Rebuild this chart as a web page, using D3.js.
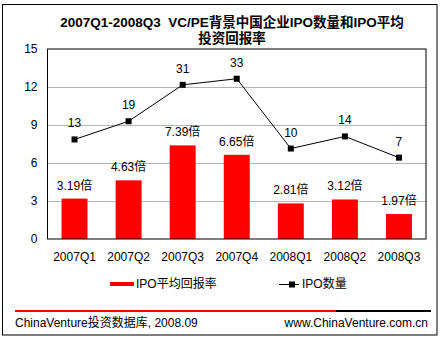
<!DOCTYPE html>
<html><head><meta charset="utf-8">
<script src="https://cdn.jsdelivr.net/npm/d3@7"></script>
<style>
body{margin:0;background:#fff;}
text{font-family:"Liberation Sans","Noto Sans CJK SC",sans-serif;}
</style></head>
<body><svg id="c" width="442" height="340"></svg>
<script>
const categories = ["2007Q1","2007Q2","2007Q3","2007Q4","2008Q1","2008Q2","2008Q3"];
const returnMultiples = [3.19,4.63,7.39,6.65,2.81,3.12,1.97];
const ipoCounts = [13,19,31,33,10,14,7];
const yTicks = [0,3,6,9,12,15];
const titleLines = ["2007Q1-2008Q3  VC/PE背景中国企业IPO数量和IPO平均","投资回报率"];
const legendLabels = ["IPO平均回报率","IPO数量"];
const footerLeft = "ChinaVenture投资数据库, 2008.09";
const footerRight = "www.ChinaVenture.com.cn";

const svg = d3.select("#c");
const L=47.5, R=426, T=49, B=239;
const font = '"Liberation Sans","Noto Sans CJK SC",sans-serif';

svg.append("rect").attr("x",2.5).attr("y",4.5).attr("width",434.5).attr("height",330.5)
  .attr("fill","#fff").attr("stroke","#000").attr("stroke-width",1);

const x = d3.scaleBand().domain(categories).range([L,R]).paddingInner(0.52).paddingOuter(0.26);
const y = d3.scaleLinear().domain([0,15]).range([B,T]);
const y2 = d3.scaleLinear().domain([-19.8,42.8]).range([B,T]);

// title
titleLines.forEach((t,i)=>{
  svg.append("text").attr("x",232).attr("y",27+i*16).attr("text-anchor","middle")
    .style("white-space","pre")
    .attr("font-weight","bold").attr("font-size",13.5).attr("fill","#000").text(t);
});

// grid
svg.append("g").selectAll("line").data(yTicks.filter(d=>d>0&&d<15)).join("line")
  .attr("x1",L).attr("x2",R).attr("y1",d=>Math.round(y(d))+0.5).attr("y2",d=>Math.round(y(d))+0.5)
  .attr("stroke","#b4b4b4").attr("stroke-width",1);

// y axis
const ya = svg.append("g").attr("transform",`translate(${L},0)`)
  .call(d3.axisLeft(y).tickValues(yTicks).tickSize(0).tickPadding(10));
ya.select(".domain").remove();
ya.selectAll("text").attr("font-size",12).attr("font-family",font).attr("fill","#000");

// bars
svg.append("g").selectAll("rect").data(returnMultiples).join("rect")
  .attr("x",(d,i)=>x(categories[i])).attr("width",x.bandwidth())
  .attr("y",d=>y(d)).attr("height",d=>B-y(d)).attr("fill","#ff0000");

svg.append("g").selectAll("text").data(returnMultiples).join("text")
  .attr("x",(d,i)=>x(categories[i])+x.bandwidth()/2).attr("y",d=>y(d)-9)
  .attr("text-anchor","middle").attr("font-size",12).attr("fill","#000")
  .text(d=>d.toFixed(2)+"倍");

// plot frame
svg.append("rect").attr("x",L).attr("y",T).attr("width",R-L).attr("height",B-T)
  .attr("fill","none").attr("stroke","#000").attr("stroke-width",1);

// line
const cx = i=>x(categories[i])+x.bandwidth()/2;
svg.append("path").datum(ipoCounts)
  .attr("d",d3.line().x((d,i)=>cx(i)).y(d=>y2(d)))
  .attr("fill","none").attr("stroke","#000").attr("stroke-width",1);
svg.append("g").selectAll("rect").data(ipoCounts).join("rect")
  .attr("x",(d,i)=>cx(i)-3).attr("y",d=>y2(d)-3).attr("width",6).attr("height",6).attr("fill","#000");
svg.append("g").selectAll("text").data(ipoCounts).join("text")
  .attr("x",(d,i)=>cx(i)).attr("y",d=>y2(d)-12).attr("text-anchor","middle")
  .attr("font-size",12).attr("fill","#000").text(d=>d);

// x axis labels
const xa = svg.append("g").attr("transform",`translate(0,${B})`)
  .call(d3.axisBottom(x).tickSize(0).tickPadding(13));
xa.select(".domain").remove();
xa.selectAll("text").attr("font-size",12).attr("font-family",font).attr("fill","#000");

// legend
svg.append("rect").attr("x",110).attr("y",282).attr("width",24).attr("height",4).attr("fill","#ff0000");
svg.append("text").attr("x",136).attr("y",288).attr("font-size",12).attr("fill","#000").text(legendLabels[0]);
svg.append("line").attr("x1",279).attr("x2",299).attr("y1",284.5).attr("y2",284.5).attr("stroke","#000");
svg.append("rect").attr("x",289).attr("y",281.5).attr("width",6).attr("height",6).attr("fill","#000");
svg.append("text").attr("x",302).attr("y",288).attr("font-size",12).attr("fill","#000").text(legendLabels[1]);

// footer
svg.append("line").attr("x1",15).attr("x2",336).attr("y1",311).attr("y2",311).attr("stroke","#ff0000").attr("stroke-width",2);
svg.append("line").attr("x1",336).attr("x2",431).attr("y1",311).attr("y2",311).attr("stroke","#000").attr("stroke-width",2);
svg.append("text").attr("x",15).attr("y",327).attr("font-size",12).attr("fill","#000").text(footerLeft);
svg.append("text").attr("x",428).attr("y",327).attr("text-anchor","end").attr("font-size",12).attr("fill","#000").text(footerRight);
</script></body></html>
